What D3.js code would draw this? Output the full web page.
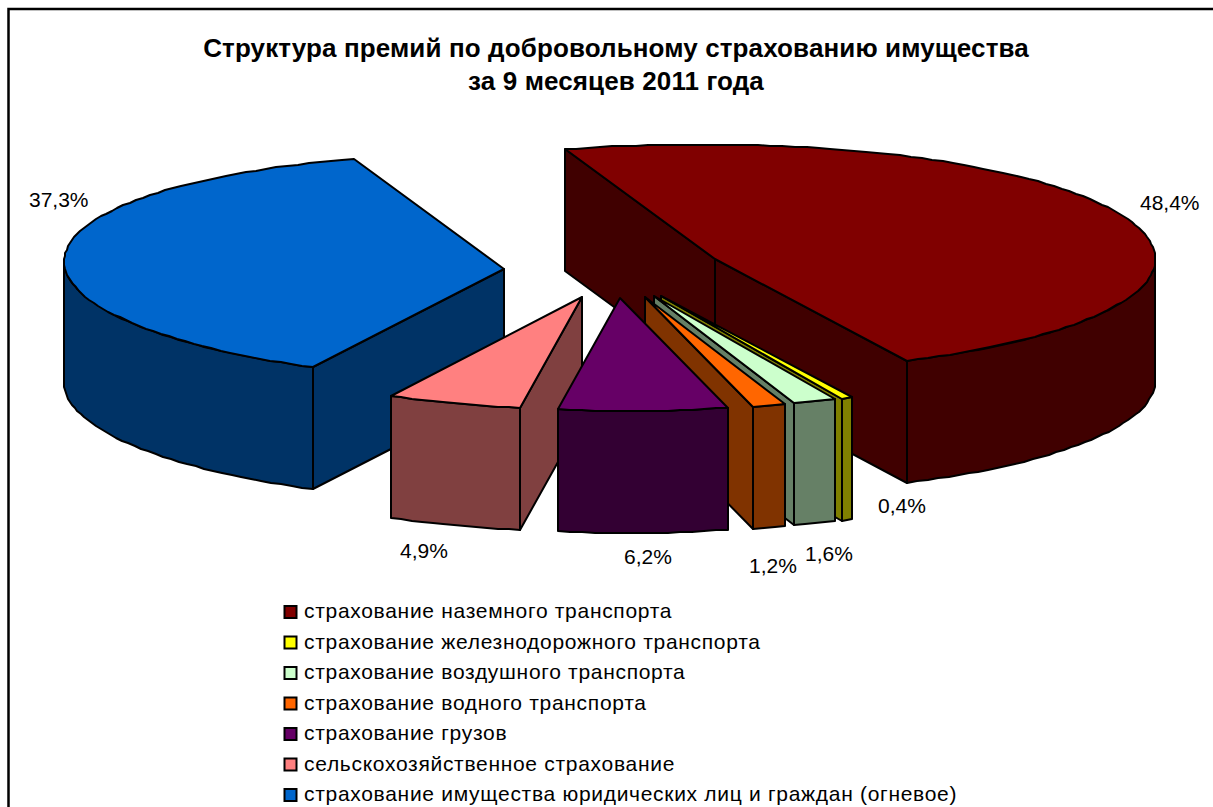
<!DOCTYPE html>
<html>
<head>
<meta charset="utf-8">
<script src="https://cdn.jsdelivr.net/npm/d3@7"></script>
<style>
body { margin: 0; background: #fff; }
text { font-family: "Liberation Sans", Arial, sans-serif; fill: #000; }
</style>
</head>
<body>
<div id="chart"></div>
<script>
const categories = [
    'страхование наземного транспорта',
    'страхование железнодорожного транспорта',
    'страхование воздушного транспорта',
    'страхование водного транспорта',
    'страхование грузов',
    'сельскохозяйственное страхование',
    'страхование имущества юридических лиц и граждан (огневое)'
];
const values = [48.4, 0.4, 1.6, 1.2, 6.2, 4.9, 37.3];
const valueLabels = ['48,4%', '0,4%', '1,6%', '1,2%', '6,2%', '4,9%', '37,3%'];
const titleLines = ['Структура премий по добровольному страхованию имущества', 'за 9 месяцев 2011 года'];

const topColors = ['#800000', '#FFFF00', '#CCFFCC', '#FF6600', '#660066', '#FF8080', '#0066CC'];
const sideColors = ['#400000', '#808000', '#668066', '#803300', '#330033', '#804040', '#003366'];

// label anchors (left x, baseline y), one per category
const labelX = [1140, 878, 805, 749, 624, 400, 29];
const labelY = [210, 513, 561, 573, 564, 558, 207];

const width = 1213, height = 807;
const cx = 614, cy = 270, rx = 440, depth = 122, explode = 0.25;

const svg = d3.select('#chart')
                .append('svg')
                .attr('width', width)
                .attr('height', height)
                .style('display', 'block');

svg.append('rect')
    .attr('x', 8.5)
    .attr('y', 9)
    .attr('width', width + 20)
    .attr('height', height + 20)
    .style('fill', '#fff')
    .style('stroke', '#000')
    .style('stroke-width', 2.5);

svg.selectAll('.title')
    .data(titleLines)
    .enter()
    .append('text')
    .attr('class', 'title')
    .attr('x', 616)
    .attr('y', (d, i) => 57 + i * 33)
    .style('text-anchor', 'middle')
    .style('font-size', '26px')
    .style('font-weight', 'bold')
    .style('letter-spacing', '0.12px')
    .text(d => d);

// pie turned so that the first slice starts 20 degrees left of top
const pie = d3.pie()
                .sort(null)
                .startAngle(-20 * Math.PI / 180)
                .endAngle(340 * Math.PI / 180);

const scaleX = d3.scaleLinear().domain([-1, 1]).range([cx - rx, cx + rx]);
const scaleY = d3.scaleLinear().domain([-1, 0, 1]).range([cy - 114, cy, cy + 113]);
// the left part of the disc sits a bit higher, the 3d view is not quite level
const tilt = d3.scaleLinear().domain([-1, 0, 1]).range([-7, 0, 0]);

const slices = pie(values).map((d, i) => {
    let mid = (d.startAngle + d.endAngle) / 2;
    return {
        i: i,
        a0: d.startAngle,
        a1: d.endAngle,
        dx: explode * Math.sin(mid),
        dy: -explode * Math.cos(mid)
    };
});

const line = d3.line().curve(d3.curveLinear);

// point on the slice: r 0 is the apex, r 1 the rim. Rim is rounded to whole
// pixels since the original polygon edges are a bit jagged
function pt(s, a, r, drop) {
    let x = scaleX(s.dx + r * Math.sin(a));
    let y = scaleY(s.dy - r * Math.cos(a)) + tilt(r * Math.sin(a)) + (drop || 0);
    return [Math.round(x), Math.round(y)];
}

function rim(s, a0, a1, drop) {
    let n = Math.max(1, Math.ceil((a1 - a0) / (1.6 * Math.PI / 180)));
    return d3.range(n + 1).map(k => pt(s, a0 + (a1 - a0) * k / n, 1, drop));
}

function shape(g, points, color) {
    g.append('path')
        .attr('d', line(points) + 'Z')
        .style('fill', color)
        .style('stroke', '#000')
        .style('stroke-width', 2)
        .style('stroke-linejoin', 'round');
}

function wall(g, s, a, color) {
    shape(g, [pt(s, a, 0), pt(s, a, 1), pt(s, a, 1, depth), pt(s, a, 0, depth)], color);
}

// back to front
const order = [0, 6, 1, 2, 3, 5, 4];

order.forEach(i => {
    let s = slices[i];
    let g = svg.append('g');
    let side = sideColors[i];

    // walls along the cut edges, only where they face the viewer
    let mid = (s.a0 + s.a1) / 2;
    if (Math.cos(s.a0) > 0 || (Math.sin(s.a0) < 0 && mid > Math.PI)) {
        wall(g, s, s.a0, side);
    }
    if (Math.sin(s.a1) > 0 && Math.cos(s.a1) < 0) {
        wall(g, s, s.a1, side);
    }

    // outer rim, front half only
    let f0 = Math.max(s.a0, Math.PI / 2);
    let f1 = Math.min(s.a1, 1.5 * Math.PI);
    if (f1 > f0) {
        let upper = rim(s, f0, f1, 0);
        let lower = rim(s, f0, f1, depth).reverse();
        shape(g, upper.concat(lower), side);
    }

    // top face
    shape(g, [pt(s, s.a0, 0)].concat(rim(s, s.a0, s.a1, 0)), topColors[i]);
});

svg.selectAll('.value')
    .data(valueLabels)
    .enter()
    .append('text')
    .attr('class', 'value')
    .attr('x', (d, i) => labelX[i])
    .attr('y', (d, i) => labelY[i])
    .style('font-size', '21px')
    .text(d => d);

const legendY = d3.scalePoint().domain(categories).range([612, 795]);

const legend = svg.selectAll('.legend')
                    .data(categories)
                    .enter()
                    .append('g')
                    .attr('class', 'legend')
                    .attr('transform', d => 'translate(284,' + legendY(d) + ')');

legend.append('rect')
    .attr('x', 0.5)
    .attr('y', -6)
    .attr('width', 12)
    .attr('height', 12)
    .style('fill', (d, i) => topColors[i])
    .style('stroke', '#000')
    .style('stroke-width', 2);

legend.append('text')
    .attr('x', 20)
    .attr('y', 6)
    .style('font-size', '21px')
    .style('letter-spacing', '0.7px')
    .text(d => d);
</script>
</body>
</html>
